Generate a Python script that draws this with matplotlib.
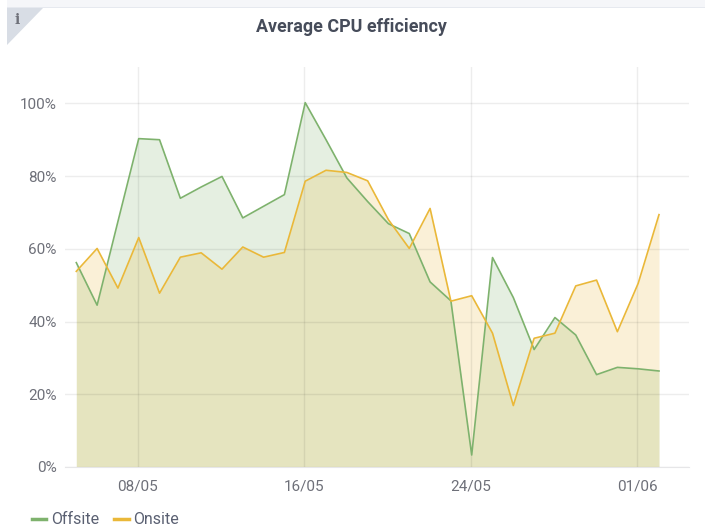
import matplotlib
matplotlib.use("Agg")
import matplotlib.dates as mdates
import matplotlib.pyplot as plt
import pandas as pd
from matplotlib.patches import Polygon, Rectangle

plt.rcParams["font.family"] = ["Roboto", "DejaVu Sans"]

TITLE = "Average CPU efficiency"
START_DATE = "2018-05-05 01:00"
OFFSITE = [56.2, 44.5, 67.5, 90.3, 90.0, 73.9, 77.0, 79.9, 68.5, 71.7, 74.9, 100.2, 90.0, 79.5, 73.0,
           66.9, 64.2, 50.9, 45.7, 3.3, 57.6, 46.6, 32.3, 41.1, 36.3, 25.4, 27.4, 27.0, 26.4]
ONSITE = [53.8, 60.1, 49.2, 63.1, 47.8, 57.7, 58.9, 54.4, 60.5, 57.7, 59.0, 78.6, 81.6, 81.0, 78.7,
          68.0, 60.1, 71.1, 45.6, 47.1, 36.8, 16.9, 35.4, 36.8, 49.8, 51.4, 37.2, 50.5, 69.4]
Y_TICKS = [0, 20, 40, 60, 80, 100]
X_TICKS = ["2018-05-08", "2018-05-16", "2018-05-24", "2018-06-01"]

GREEN = "#7eb26d"
YELLOW = "#eab839"
GRID = "#000000"
TEXT = "#6e7079"

W, H = 705, 529
dates = pd.date_range(START_DATE, periods=len(OFFSITE), freq="D")

fig = plt.figure(figsize=(W / 100, H / 100), dpi=100)
ax = fig.add_axes([65 / W, 1 - 467 / H, (689 - 65) / W, (467 - 67) / H])

# x range is padded so the 29 days land on the same pixels as the reference
px_per_day = 20.81
ax.set_xlim(mdates.date2num(dates[0]) - 11.3 / px_per_day,
            mdates.date2num(dates[-1]) + 30 / px_per_day)
ax.set_ylim(0, 110)

ax.fill_between(dates, OFFSITE, color=GREEN, alpha=0.2, linewidth=0, zorder=2)
ax.fill_between(dates, ONSITE, color=YELLOW, alpha=0.2, linewidth=0, zorder=2)
ax.plot(dates, OFFSITE, color=GREEN, lw=1.2, label="Offsite", zorder=3)
ax.plot(dates, ONSITE, color=YELLOW, lw=1.2, label="Onsite", zorder=3)

ax.set_yticks(Y_TICKS)
ax.set_yticklabels([f"{v}%" for v in Y_TICKS])
ax.set_xticks(pd.to_datetime(X_TICKS))
ax.xaxis.set_major_formatter(mdates.DateFormatter("%d/%m"))
ax.tick_params(length=0, labelsize=11, labelcolor=TEXT)
ax.tick_params(axis="y", pad=6)
ax.tick_params(axis="x", pad=9)
# grid sits over the fills, it shows through in the reference
ax.grid(True, color=GRID, alpha=0.07, lw=1)
ax.set_axisbelow(False)
for side in ["top", "right", "left"]:
    ax.spines[side].set_visible(False)
ax.spines["bottom"].set_color("#e6e6e8")

leg = ax.legend(loc="lower left", bbox_to_anchor=(27 / W, 1 - 532 / H), bbox_transform=fig.transFigure,
                ncol=2, frameon=False, fontsize=11.5, labelcolor="#5a6072", handlelength=0.9,
                handletextpad=0.3, columnspacing=0.95, borderaxespad=0, borderpad=0.3)
for line in leg.get_lines():
    line.set_linewidth(2.5)

# page strip and info corner
fig.add_artist(Rectangle((7 / W, 1 - 8 / H), (W - 7) / W, 8 / H, transform=fig.transFigure,
                         facecolor="#f5f6f9", edgecolor="none"))
fig.add_artist(Rectangle((7 / W, 1 - 8 / H), (W - 7) / W, 1 / H, transform=fig.transFigure,
                         facecolor="#e6e9ef", edgecolor="none"))
fig.add_artist(Polygon([(7 / W, 1 - 8 / H), (43 / W, 1 - 8 / H), (7 / W, 1 - 45 / H)],
                       transform=fig.transFigure, facecolor="#d8dde5", edgecolor="none"))
fig.text(17 / W, 1 - 20 / H, "i", family="DejaVu Serif", weight="bold", fontsize=10, color="#6e7079",
         ha="center", va="center")
fig.text(351.5 / W, 1 - 27 / H, TITLE, fontsize=12.9, weight="bold", color="#464c5a",
         ha="center", va="center")

fig.savefig("out.png", dpi=100)
